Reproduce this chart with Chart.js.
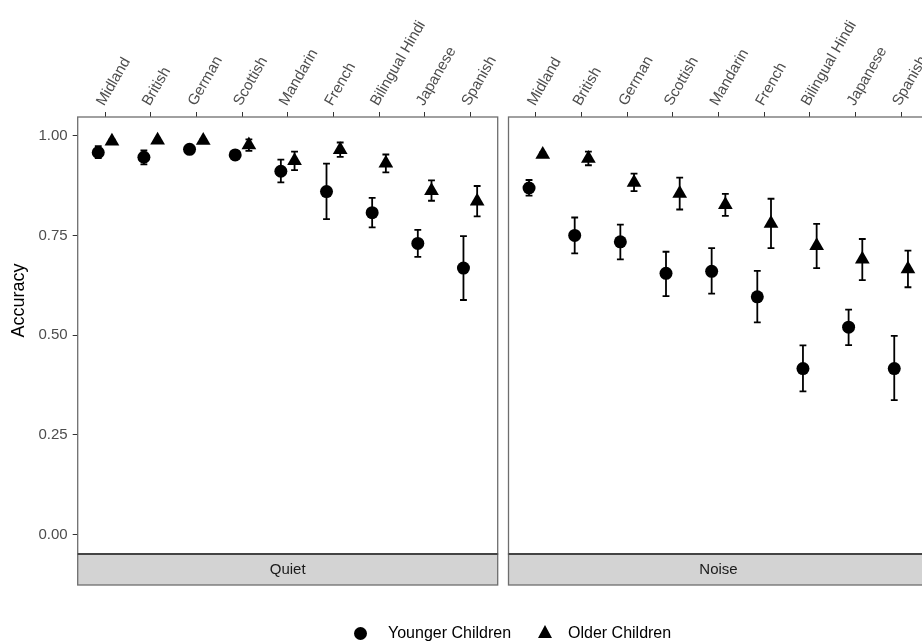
<!DOCTYPE html>
<html>
<head>
<meta charset="utf-8">
<script src="https://cdn.jsdelivr.net/npm/chart.js@4.4.0/dist/chart.umd.min.js"></script>
<style>
  html, body { margin: 0; padding: 0; width: 922px; height: 642px; overflow: hidden; background: #fff; }
  .box { position: absolute; top: 0; height: 642px; }
  #quietBox { left: 0; width: 510px; }
  #noiseBox { left: 500px; width: 440px; }
  .leg { position: absolute; font-family: "Liberation Sans", Arial, sans-serif; font-size: 16px; color: #000; line-height: 18px; white-space: nowrap; }
  .dot { position: absolute; width: 13px; height: 13px; border-radius: 50%; background: #000; }
  .tri { position: absolute; width: 0; height: 0; border-left: 7.5px solid transparent; border-right: 7.5px solid transparent; border-bottom: 13px solid #000; }
</style>
</head>
<body>
<div class="box" id="quietBox"><canvas id="quietChart"></canvas></div>
<div class="box" id="noiseBox"><canvas id="noiseChart"></canvas></div>

<!-- leyenda comun -->
<div class="dot" style="left:354px; top:627px;"></div>
<div class="leg" style="left:388px; top:624px;">Younger Children</div>
<div class="tri" style="left:538px; top:625px;"></div>
<div class="leg" style="left:568px; top:624px;">Older Children</div>

<script>
// categorias del eje superior y marcas del eje y
const categories = ['Midland', 'British', 'German', 'Scottish', 'Mandarin', 'French', 'Bilingual Hindi', 'Japanese', 'Spanish'];
const yTicks = [0, 0.25, 0.5, 0.75, 1];

// panel Quiet
const quietYounger     = [0.958, 0.946, 0.966, 0.952, 0.911, 0.860, 0.807, 0.730, 0.668];
const quietYoungerLow  = [0.944, 0.928, 0.960, 0.946, 0.883, 0.791, 0.770, 0.696, 0.588];
const quietYoungerHigh = [0.974, 0.963, 0.972, 0.958, 0.940, 0.930, 0.844, 0.764, 0.748];
const quietOlder       = [0.986, 0.989, 0.988, 0.977, 0.937, 0.965, 0.931, 0.862, 0.836];
const quietOlderLow    = [0.982, 0.985, 0.984, 0.962, 0.914, 0.947, 0.908, 0.837, 0.798];
const quietOlderHigh   = [0.990, 0.993, 0.992, 0.991, 0.960, 0.983, 0.953, 0.888, 0.874];

// panel Noise
const noiseYounger     = [0.869, 0.750, 0.734, 0.655, 0.660, 0.596, 0.416, 0.520, 0.416];
const noiseYoungerLow  = [0.850, 0.705, 0.690, 0.598, 0.604, 0.532, 0.359, 0.475, 0.337];
const noiseYoungerHigh = [0.889, 0.795, 0.777, 0.709, 0.718, 0.661, 0.474, 0.564, 0.498];
const noiseOlder       = [0.953, 0.943, 0.883, 0.855, 0.827, 0.780, 0.724, 0.690, 0.666];
const noiseOlderLow    = [0.948, 0.926, 0.861, 0.815, 0.799, 0.718, 0.668, 0.638, 0.620];
const noiseOlderHigh   = [0.958, 0.960, 0.905, 0.895, 0.854, 0.842, 0.779, 0.741, 0.712];

const FONT = '"Liberation Sans", Arial, sans-serif';
const DODGE = 0.15;

// barras de error, dibujadas con las escalas del grafico
const errorBars = {
  id: 'errorBars',
  beforeDatasetsDraw(chart) {
    const ctx = chart.ctx;
    const xs = chart.scales.x, ys = chart.scales.y;
    const half = (xs.getPixelForValue(DODGE) - xs.getPixelForValue(0)) / 2;
    ctx.save();
    ctx.strokeStyle = '#000';
    ctx.lineWidth = 1.8;
    chart.data.datasets.forEach((ds, i) => {
      chart.getDatasetMeta(i).data.forEach((pt, j) => {
        const y1 = ys.getPixelForValue(ds.errLow[j]);
        const y2 = ys.getPixelForValue(ds.errHigh[j]);
        ctx.beginPath();
        ctx.moveTo(pt.x, y1); ctx.lineTo(pt.x, y2);
        ctx.moveTo(pt.x - half, y1); ctx.lineTo(pt.x + half, y1);
        ctx.moveTo(pt.x - half, y2); ctx.lineTo(pt.x + half, y2);
        ctx.stroke();
      });
    });
    ctx.restore();
  }
};

// borde del panel y franja con el nombre de la condicion
const stripPlugin = {
  id: 'strip',
  afterDraw(chart, args, opts) {
    const ctx = chart.ctx;
    const a = chart.chartArea;
    ctx.save();
    ctx.fillStyle = '#d3d3d3';
    ctx.fillRect(a.left, a.bottom, a.right - a.left, 31);
    ctx.strokeStyle = '#6e6e6e';
    ctx.lineWidth = 1.3;
    ctx.strokeRect(a.left, a.bottom, a.right - a.left, 31);
    ctx.strokeRect(a.left, a.top, a.right - a.left, a.bottom - a.top);
    ctx.strokeStyle = '#444';
    ctx.lineWidth = 2;
    ctx.beginPath();
    ctx.moveTo(a.left, a.bottom); ctx.lineTo(a.right, a.bottom);
    ctx.stroke();
    ctx.fillStyle = '#1a1a1a';
    ctx.font = '15px ' + FONT;
    ctx.textAlign = 'center';
    ctx.textBaseline = 'middle';
    ctx.fillText(opts.text, (a.left + a.right) / 2, a.bottom + 16);
    ctx.restore();
  }
};

function makePanel(id, label, young, youngLow, youngHigh, old, oldLow, oldHigh, showY, pad) {
  new Chart(document.getElementById(id), {
    type: 'scatter',
    data: {
      datasets: [{
        label: 'Younger Children',
        data: categories.map((c, i) => ({ x: i - DODGE, y: young[i] })),
        errLow: youngLow,
        errHigh: youngHigh,
        pointStyle: 'circle',
        pointRadius: 6.5,
        backgroundColor: '#000',
        borderWidth: 0
      }, {
        label: 'Older Children',
        data: categories.map((c, i) => ({ x: i + DODGE, y: old[i] })),
        errLow: oldLow,
        errHigh: oldHigh,
        pointStyle: 'triangle',
        pointRadius: 8.5,
        backgroundColor: '#000',
        borderWidth: 0
      }]
    },
    options: {
      responsive: true,
      maintainAspectRatio: false,
      animation: false,
      events: [],
      layout: { padding: pad },
      plugins: {
        legend: { display: false },
        tooltip: { enabled: false },
        strip: { text: label }
      },
      scales: {
        x: {
          type: 'linear',
          position: 'top',
          min: -0.6,
          max: 8.6,
          afterBuildTicks: s => { s.ticks = categories.map((c, i) => ({ value: i })); },
          afterFit: s => { s.height = 117; },
          grid: { drawOnChartArea: false, tickLength: 5, color: '#333', lineWidth: 1 },
          border: { display: false },
          ticks: {
            autoSkip: false, minRotation: 60, maxRotation: 60, padding: 3, labelOffset: 11,
            color: '#4d4d4d', font: { size: 15, family: FONT },
            callback: v => categories[v]
          }
        },
        y: {
          min: -0.049,
          max: 1.047,
          display: showY,
          afterBuildTicks: s => { s.ticks = yTicks.map(v => ({ value: v })); },
          afterFit: s => { if (showY) s.width = 77.7; },
          grid: { drawOnChartArea: false, tickLength: 5, color: '#333', lineWidth: 1 },
          border: { display: false },
          ticks: {
            padding: 5, color: '#4d4d4d', font: { size: 15, family: FONT },
            callback: v => v.toFixed(2)
          },
          title: {
            display: true, text: '              Accuracy', color: '#000',
            font: { size: 18, family: FONT }, padding: { top: 8, bottom: 0 }
          }
        }
      }
    },
    plugins: [errorBars, stripPlugin]
  });
}

makePanel('quietChart', 'Quiet', quietYounger, quietYoungerLow, quietYoungerHigh,
  quietOlder, quietOlderLow, quietOlderHigh, true, { left: 0, right: 12.3, top: 0, bottom: 88 });
makePanel('noiseChart', 'Noise', noiseYounger, noiseYoungerLow, noiseYoungerHigh,
  noiseOlder, noiseOlderLow, noiseOlderHigh, false, { left: 8.5, right: 11.5, top: 0, bottom: 88 });
</script>
</body>
</html>
